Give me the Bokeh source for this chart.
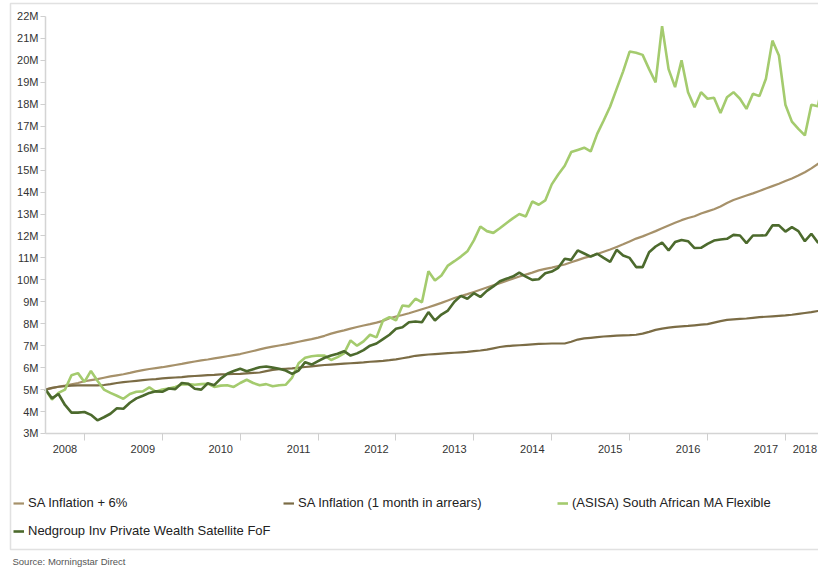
from bokeh.plotting import figure
from bokeh.models import FixedTicker, Legend, LegendItem, Label, BoxAnnotation, Range1d
from bokeh.embed import file_html
from bokeh.resources import INLINE
import numpy as np

# ---- data (values in millions, monthly from Jul 2008) ----
start_month = "2008-07"
series_names = [
    "SA Inflation + 6%",
    "SA Inflation (1 month in arrears)",
    "(ASISA) South African MA Flexible",
    "Nedgroup Inv Private Wealth Satellite FoF",
]

cpi_plus6 = [
    5.00, 5.07, 5.13, 5.18, 5.24, 5.30, 5.38, 5.43, 5.48, 5.54,
    5.60, 5.65, 5.70, 5.76, 5.83, 5.89, 5.94, 5.98, 6.02, 6.07,
    6.12, 6.17, 6.23, 6.28, 6.33, 6.37, 6.42, 6.47, 6.52, 6.57,
    6.62, 6.69, 6.76, 6.83, 6.90, 6.96, 7.01, 7.06, 7.12, 7.18,
    7.24, 7.30, 7.37, 7.45, 7.55, 7.63, 7.70, 7.78, 7.85, 7.92,
    7.98, 8.05, 8.13, 8.25, 8.33, 8.40, 8.48, 8.57, 8.66, 8.75,
    8.85, 8.95, 9.06, 9.17, 9.26, 9.35, 9.45, 9.55, 9.65, 9.75,
    9.85, 9.95, 10.05, 10.15, 10.24, 10.33, 10.43, 10.50, 10.56, 10.63,
    10.70, 10.80, 10.90, 11.00, 11.08, 11.18, 11.28, 11.38, 11.50, 11.62,
    11.75, 11.88, 11.98, 12.10, 12.22, 12.35, 12.48, 12.60, 12.72, 12.82,
    12.90, 13.02, 13.12, 13.22, 13.34, 13.50, 13.64, 13.74, 13.84, 13.94,
    14.05, 14.16, 14.27, 14.38, 14.50, 14.62, 14.75, 14.90, 15.08, 15.28,
    15.45,
]

cpi = [
    5.00, 5.08, 5.13, 5.16, 5.18, 5.19, 5.19, 5.19, 5.19, 5.21,
    5.25, 5.30, 5.34, 5.37, 5.40, 5.43, 5.46, 5.48, 5.51, 5.53,
    5.55, 5.57, 5.60, 5.62, 5.64, 5.66, 5.67, 5.69, 5.70, 5.71,
    5.72, 5.74, 5.76, 5.78, 5.84, 5.90, 5.93, 5.95, 5.97, 6.00,
    6.03, 6.06, 6.09, 6.12, 6.14, 6.16, 6.18, 6.20, 6.22, 6.24,
    6.27, 6.29, 6.31, 6.34, 6.38, 6.43, 6.48, 6.54, 6.57, 6.60,
    6.62, 6.64, 6.66, 6.68, 6.70, 6.72, 6.75, 6.78, 6.82, 6.88,
    6.94, 6.98, 7.00, 7.02, 7.04, 7.06, 7.08, 7.09, 7.10, 7.10,
    7.10, 7.18, 7.28, 7.33, 7.36, 7.39, 7.42, 7.44, 7.46, 7.47,
    7.48, 7.50, 7.55, 7.63, 7.72, 7.78, 7.82, 7.86, 7.88, 7.90,
    7.93, 7.96, 7.98, 8.05, 8.12, 8.18, 8.20, 8.22, 8.24, 8.27,
    8.30, 8.32, 8.34, 8.36, 8.38, 8.41, 8.45, 8.49, 8.53, 8.58,
    8.62,
]

asisa_flexible = [
    5.00, 4.55, 4.85, 5.00, 5.65, 5.75, 5.35, 5.85, 5.40, 5.00,
    4.85, 4.72, 4.58, 4.80, 4.90, 4.92, 5.10, 4.90, 5.00, 5.05,
    5.12, 5.24, 5.25, 5.22, 5.25, 5.27, 5.12, 5.18, 5.20, 5.12,
    5.30, 5.45, 5.30, 5.20, 5.25, 5.15, 5.20, 5.22, 5.55, 6.20,
    6.45, 6.52, 6.55, 6.55, 6.35, 6.48, 6.65, 7.24, 7.00, 7.20,
    7.50, 7.38, 8.15, 8.30, 8.15, 8.83, 8.79, 9.14, 8.98, 10.39,
    9.97, 10.20, 10.65, 10.85, 11.06, 11.30, 11.80, 12.43, 12.22, 12.14,
    12.35, 12.58, 12.80, 13.00, 12.89, 13.57, 13.42, 13.62, 14.35, 14.80,
    15.20, 15.82, 15.92, 16.02, 15.85, 16.65, 17.26, 17.90, 18.70, 19.50,
    20.40, 20.35, 20.25, 19.60, 19.00, 21.56, 19.60, 18.78, 20.00, 18.55,
    17.87, 18.55, 18.25, 18.30, 17.60, 18.32, 18.55, 18.25, 17.79, 18.48,
    18.37, 19.16, 20.90, 20.22, 17.98, 17.21, 16.88, 16.58, 17.98, 17.91,
    19.30,
]

nedgroup_satellite = [
    5.00, 4.60, 4.80, 4.30, 3.95, 3.95, 3.98, 3.85, 3.60, 3.74,
    3.90, 4.15, 4.13, 4.40, 4.60, 4.72, 4.85, 4.92, 4.90, 5.05,
    5.02, 5.30, 5.27, 5.04, 5.00, 5.29, 5.20, 5.50, 5.72, 5.85,
    5.95, 5.84, 5.93, 6.02, 6.05, 6.00, 5.95, 5.87, 5.72, 5.87,
    6.25, 6.14, 6.30, 6.45, 6.55, 6.63, 6.75, 6.55, 6.65, 6.80,
    7.00, 7.10, 7.30, 7.50, 7.77, 7.84, 8.07, 8.10, 8.07, 8.53,
    8.15, 8.42, 8.60, 9.00, 9.27, 9.14, 9.39, 9.22, 9.50, 9.70,
    9.94, 10.05, 10.15, 10.33, 10.15, 10.00, 10.03, 10.30, 10.38, 10.55,
    10.96, 10.91, 11.34, 11.20, 11.06, 11.19, 11.00, 10.82, 11.37, 11.11,
    11.00, 10.58, 10.58, 11.26, 11.52, 11.70, 11.34, 11.72, 11.82, 11.76,
    11.45, 11.46, 11.64, 11.79, 11.84, 11.87, 12.05, 12.02, 11.67, 12.02,
    12.02, 12.03, 12.48, 12.48, 12.20, 12.40, 12.22, 11.76, 12.10, 11.70,
    11.80,
]

year_labels = ["2008", "2009", "2010", "2011", "2012", "2013",
               "2014", "2015", "2016", "2017", "2018"]
year_label_months = [3, 15, 27, 39, 51, 63, 75, 87, 99, 111, 117]
year_start_months = [6, 18, 30, 42, 54, 66, 78, 90, 102, 114]
y_tick_values = list(range(3, 23))
y_tick_labels = [f"{v}M" for v in y_tick_values]

colors = ["#a6916a", "#7b6c45", "#a4cb6e", "#4c6a2d"]
widths = [2.2, 2.2, 2.6, 2.6]

x = np.arange(len(cpi_plus6))

W, H = 818, 567
p = figure(width=W, height=H, output_backend="svg", toolbar_location=None,
           x_range=Range1d(-6.934, 119.1), y_range=Range1d(-3.105, 22.727),
           min_border_left=0, min_border_right=0, min_border_top=0,
           min_border_bottom=0)
p.outline_line_color = None
p.xgrid.visible = False
p.ygrid.visible = False
p.background_fill_color = "white"
p.border_fill_color = "white"

renderers = []
for vals, c, w in zip([cpi_plus6, cpi, asisa_flexible, nedgroup_satellite], colors, widths):
    renderers.append(p.line(x, vals, line_color=c, line_width=w))

# x axis (drawn at the 3M level)
xa = p.xaxis[0]
xa.fixed_location = 3
xa.bounds = (0, 200)
xa.ticker = FixedTicker(ticks=year_label_months, minor_ticks=year_start_months)
xa.major_label_overrides = {m: lab for m, lab in zip(year_label_months, year_labels)}
xa.major_tick_out = 0
xa.major_tick_in = 0
xa.minor_tick_out = 7
xa.minor_tick_in = 0
xa.minor_tick_line_color = "#cfcfcf"
xa.axis_line_color = "#d4d4d4"
xa.axis_line_width = 1.5
xa.major_label_standoff = 5
xa.major_label_text_font = "Liberation Sans"
xa.major_label_text_font_size = "11px"
xa.major_label_text_color = "#333333"

# y axis (drawn at the first month)
ya = p.yaxis[0]
ya.fixed_location = 0
ya.bounds = (3, 22)
ya.ticker = FixedTicker(ticks=y_tick_values, minor_ticks=[])
ya.major_label_overrides = {v: lab for v, lab in zip(y_tick_values, y_tick_labels)}
ya.major_tick_out = 5
ya.major_tick_in = 0
ya.major_tick_line_color = "#cfcfcf"
ya.minor_tick_line_color = None
ya.axis_line_color = "#d4d4d4"
ya.axis_line_width = 1.5
ya.major_label_standoff = 2
ya.major_label_text_font = "Liberation Sans"
ya.major_label_text_font_size = "11px"
ya.major_label_text_color = "#333333"

# legends (single-item legends placed below the plotted area)
legend_pos = [(13, 57), (283, 57), (557, 57), (13, 29)]
for name, r, loc in zip(series_names, renderers, legend_pos):
    leg = Legend(items=[LegendItem(label=name, renderers=[r])], location=loc,
                 orientation="horizontal", border_line_color=None,
                 background_fill_alpha=0, padding=0, margin=0, spacing=0,
                 glyph_width=11, glyph_height=14, label_standoff=4,
                 label_height=14, label_width=10,
                 label_text_font="Liberation Sans",
                 label_text_font_size="13px", label_text_color="#222222")
    p.add_layout(leg)

# outer frame
p.add_layout(BoxAnnotation(left=10, right=1000, bottom=18, top=564,
                           left_units="screen", right_units="screen",
                           top_units="screen", bottom_units="screen",
                           fill_alpha=0, line_color="#9a9a9a", line_width=1.5))

p.add_layout(Label(x=12, y=6, x_units="screen", y_units="screen",
                   text="Source: Morningstar Direct", text_font="Liberation Sans",
                   text_font_size="9.5px", text_color="#555555",
                   text_baseline="middle"))

open("out.html", "w").write(file_html(p, INLINE, title="chart"))
